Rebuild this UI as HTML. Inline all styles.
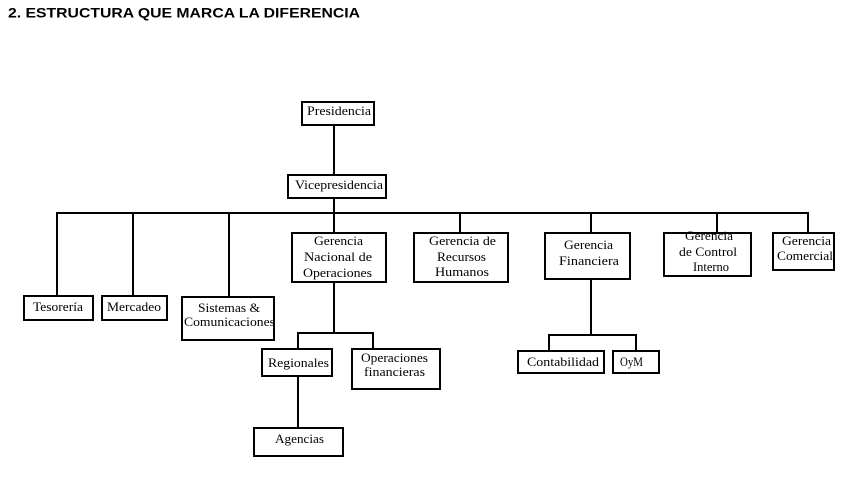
<!DOCTYPE html>
<html>
<head>
<meta charset="utf-8">
<style>
html,body{margin:0;padding:0;background:#fff;}
svg{display:block;}
.t{font-family:"Liberation Serif","DejaVu Serif",serif;font-size:13px;fill:#000;}
.h{font-family:"Liberation Sans","DejaVu Sans",sans-serif;font-size:14px;font-weight:bold;fill:#000;}
</style>
</head>
<body>
<svg width="852" height="478" viewBox="0 0 852 478" xmlns="http://www.w3.org/2000/svg">
<rect x="0" y="0" width="852" height="478" fill="#fff"/>
<text class="h" x="8" y="17.3" textLength="352" lengthAdjust="spacingAndGlyphs">2. ESTRUCTURA QUE MARCA LA DIFERENCIA</text>

<g stroke="#000" stroke-width="2" fill="none">
  <!-- connectors -->
  <line x1="334" y1="126" x2="334" y2="174"/>
  <line x1="334" y1="199" x2="334" y2="232"/>
  <line x1="56" y1="213" x2="809" y2="213"/>
  <line x1="57" y1="213" x2="57" y2="295"/>
  <line x1="133" y1="213" x2="133" y2="295"/>
  <line x1="229" y1="213" x2="229" y2="296"/>
  <line x1="460" y1="213" x2="460" y2="232"/>
  <line x1="591" y1="213" x2="591" y2="232"/>
  <line x1="717" y1="213" x2="717" y2="232"/>
  <line x1="808" y1="213" x2="808" y2="232"/>
  <line x1="334" y1="283" x2="334" y2="333"/>
  <line x1="297" y1="333" x2="374" y2="333"/>
  <line x1="298" y1="333" x2="298" y2="348"/>
  <line x1="373" y1="333" x2="373" y2="348"/>
  <line x1="298" y1="377" x2="298" y2="427"/>
  <line x1="591" y1="280" x2="591" y2="335"/>
  <line x1="548" y1="335" x2="637" y2="335"/>
  <line x1="549" y1="335" x2="549" y2="350"/>
  <line x1="636" y1="335" x2="636" y2="350"/>
</g>
<g stroke="#000" stroke-width="2" fill="#fff">
  <rect x="302" y="102" width="72" height="23"/>
  <rect x="288" y="175" width="98" height="23"/>
  <rect x="24" y="296" width="69" height="24"/>
  <rect x="102" y="296" width="65" height="24"/>
  <rect x="182" y="297" width="92" height="43"/>
  <rect x="292" y="233" width="94" height="49"/>
  <rect x="414" y="233" width="94" height="49"/>
  <rect x="545" y="233" width="85" height="46"/>
  <rect x="664" y="233" width="87" height="43"/>
  <rect x="773" y="233" width="61" height="37"/>
  <rect x="262" y="349" width="70" height="27"/>
  <rect x="352" y="349" width="88" height="40"/>
  <rect x="254" y="428" width="89" height="28"/>
  <rect x="518" y="351" width="86" height="22"/>
  <rect x="613" y="351" width="46" height="22"/>
</g>

<g class="t" text-anchor="middle">
  <text x="339" y="115" textLength="64" lengthAdjust="spacingAndGlyphs">Presidencia</text>
  <text x="339" y="189" textLength="88" lengthAdjust="spacingAndGlyphs">Vicepresidencia</text>
  <text x="58" y="311" textLength="50" lengthAdjust="spacingAndGlyphs">Tesorería</text>
  <text x="134" y="311" textLength="54" lengthAdjust="spacingAndGlyphs">Mercadeo</text>
  <text x="229" y="312" textLength="62" lengthAdjust="spacingAndGlyphs">Sistemas &amp;</text>
  <text x="229.5" y="326" textLength="91" lengthAdjust="spacingAndGlyphs">Comunicaciones</text>

  <text x="338.5" y="245" textLength="49" lengthAdjust="spacingAndGlyphs">Gerencia</text>
  <text x="338" y="261" textLength="68" lengthAdjust="spacingAndGlyphs">Nacional de</text>
  <text x="337.5" y="277" textLength="69" lengthAdjust="spacingAndGlyphs">Operaciones</text>

  <text x="462.5" y="245" textLength="67" lengthAdjust="spacingAndGlyphs">Gerencia de</text>
  <text x="461.5" y="261" textLength="49" lengthAdjust="spacingAndGlyphs">Recursos</text>
  <text x="462" y="276" textLength="54" lengthAdjust="spacingAndGlyphs">Humanos</text>

  <text x="588.5" y="249" textLength="49" lengthAdjust="spacingAndGlyphs">Gerencia</text>
  <text x="589" y="265" textLength="60" lengthAdjust="spacingAndGlyphs">Financiera</text>

  <text x="709" y="240" textLength="48" lengthAdjust="spacingAndGlyphs">Gerencia</text>
  <text x="708" y="256" textLength="58" lengthAdjust="spacingAndGlyphs">de Control</text>
  <text x="711" y="271" textLength="36" lengthAdjust="spacingAndGlyphs">Interno</text>

  <text x="806.5" y="245" textLength="49" lengthAdjust="spacingAndGlyphs">Gerencia</text>
  <text x="805" y="260" textLength="56" lengthAdjust="spacingAndGlyphs">Comercial</text>

  <text x="298.5" y="367" textLength="61" lengthAdjust="spacingAndGlyphs">Regionales</text>
  <text x="394.5" y="362" textLength="67" lengthAdjust="spacingAndGlyphs">Operaciones</text>
  <text x="394.5" y="376" textLength="61" lengthAdjust="spacingAndGlyphs">financieras</text>
  <text x="299.5" y="443" textLength="49" lengthAdjust="spacingAndGlyphs">Agencias</text>
  <text x="563" y="366" textLength="72" lengthAdjust="spacingAndGlyphs">Contabilidad</text>
  <text x="631.5" y="366" textLength="23" lengthAdjust="spacingAndGlyphs">OyM</text>
</g>
</svg>
</body>
</html>
